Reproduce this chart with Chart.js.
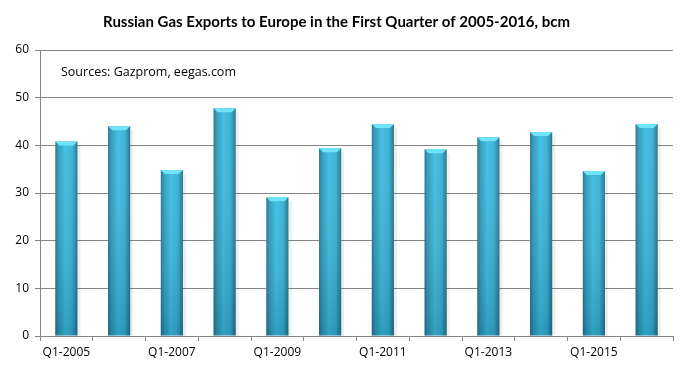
<!DOCTYPE html>
<html>
<head>
<meta charset="utf-8">
<script src="https://cdn.jsdelivr.net/npm/chart.js@4.4.0/dist/chart.umd.min.js"></script>
<style>
  html, body { margin: 0; padding: 0; background: #fff; }
  #wrap { width: 689px; height: 374px; }
</style>
</head>
<body>
<div id="wrap"><canvas id="gasChart" width="689" height="374"></canvas></div>
<script>
const quarters = ["Q1-2005", "Q1-2006", "Q1-2007", "Q1-2008", "Q1-2009", "Q1-2010",
                  "Q1-2011", "Q1-2012", "Q1-2013", "Q1-2014", "Q1-2015", "Q1-2016"];
const exportsBcm = [40.8, 44.0, 34.8, 47.8, 29.1, 39.4, 44.5, 39.2, 41.7, 42.8, 34.6, 44.5];
const yTicks = [0, 10, 20, 30, 40, 50, 60];
const sourceNote = "Sources: Gazprom, eegas.com";

document.addEventListener("DOMContentLoaded", () => {
    const ctx = document.getElementById("gasChart").getContext("2d");
    const axisGray = "#868686";

    // cylinder-ish fill: dark edges, light middle
    function barFill(context) {
        const chart = context.chart;
        const x = chart.scales.x;
        if (!chart.chartArea || !x) return "#35aed3";
        const cw = (x.right - x.left) / quarters.length;
        const cx = x.getPixelForValue(context.dataIndex);
        const half = cw * 0.42 / 2;
        const g = chart.ctx.createLinearGradient(cx - half, 0, cx + half, 0);
        g.addColorStop(0, "#1f6f86");
        g.addColorStop(0.12, "#2c95b4");
        g.addColorStop(0.45, "#3bbde2");
        g.addColorStop(0.75, "#36b0d5");
        g.addColorStop(0.92, "#2886a3");
        g.addColorStop(1, "#1d6a80");
        return g;
    }

    const extras = {
        id: "extras",
        beforeDatasetsDraw(chart) {
            const c = chart.ctx;
            chart.getDatasetMeta(0).data.forEach(bar => {
                const half = bar.width / 2;
                c.save();
                c.fillStyle = "rgba(0,0,0,0.07)";
                c.fillRect(bar.x + half, bar.y + 4, 3, bar.base - bar.y - 4);
                c.restore();
            });
        },
        afterDatasetsDraw(chart) {
            const c = chart.ctx;
            chart.getDatasetMeta(0).data.forEach(bar => {
                const half = bar.width / 2;
                const l = bar.x - half, r = bar.x + half, t = bar.y;
                // darken toward bottom
                const v = c.createLinearGradient(0, t, 0, bar.base);
                v.addColorStop(0, "rgba(255,255,255,0.05)");
                v.addColorStop(1, "rgba(0,40,60,0.2)");
                c.save();
                c.fillStyle = v;
                c.fillRect(l, t, bar.width, bar.base - t);
                // bevelled top
                c.fillStyle = "#6fe3f7";
                c.beginPath();
                c.moveTo(l, t);
                c.lineTo(r, t);
                c.lineTo(r - 4, t + 4);
                c.lineTo(l + 4, t + 4);
                c.closePath();
                c.fill();
                c.restore();
            });
            c.save();
            c.font = "12.5px 'Open Sans'";
            c.fillStyle = "#000";
            c.textBaseline = "middle";
            c.fillText(sourceNote, 61, 72);
            c.restore();
        }
    };

    new Chart(ctx, {
        type: "bar",
        data: {
            labels: quarters,
            datasets: [{
                label: "Exports, bcm",
                data: exportsBcm,
                backgroundColor: barFill,
                borderWidth: 0,
                barPercentage: 0.42,
                categoryPercentage: 1.0
            }]
        },
        options: {
            responsive: false,
            animation: false,
            layout: { padding: { left: 0, right: 16, top: 0, bottom: 0 } },
            plugins: {
                legend: { display: false },
                tooltip: { enabled: false },
                title: {
                    display: true,
                    text: "Russian Gas Exports to Europe in the First Quarter of 2005-2016, bcm",
                    color: "#000",
                    font: { family: "Lato", size: 15, weight: "bold" },
                    padding: { top: 13, bottom: 19 }
                }
            },
            scales: {
                x: {
                    grid: {
                        offset: true,
                        drawOnChartArea: false,
                        drawTicks: true,
                        tickLength: 5,
                        color: axisGray
                    },
                    border: { display: true, color: axisGray },
                    ticks: {
                        autoSkip: false,
                        maxRotation: 0,
                        color: "#000",
                        font: { family: "Open Sans", size: 12 },
                        padding: 4,
                        callback: function(value, index) {
                            return index % 2 === 0 ? quarters[index] : "";
                        }
                    },
                    afterFit(scale) { scale.height = 38; }
                },
                y: {
                    min: 0,
                    max: 60,
                    afterBuildTicks(scale) {
                        scale.ticks = yTicks.map(v => ({ value: v }));
                    },
                    grid: { color: axisGray, tickLength: 5 },
                    border: { display: true, color: axisGray },
                    ticks: {
                        color: "#000",
                        font: { family: "Open Sans", size: 12 },
                        padding: 6
                    },
                    afterFit(scale) { scale.width = 40; }
                }
            }
        },
        plugins: [extras]
    });
});
</script>
</body>
</html>
